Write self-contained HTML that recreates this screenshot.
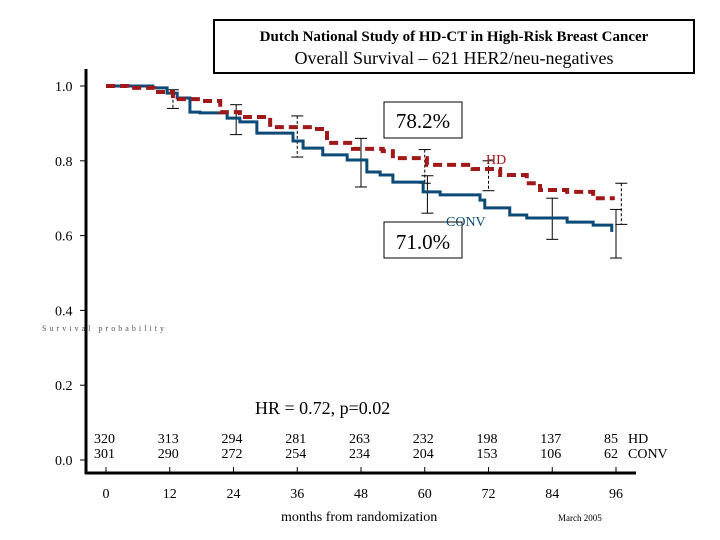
<!DOCTYPE html>
<html><head><meta charset="utf-8"><style>
body{margin:0;background:#fff}
svg{display:block;font-family:"Liberation Serif",serif}
</style></head><body>
<svg width="720" height="540" viewBox="0 0 720 540">
<rect x="214" y="20" width="480" height="53" fill="#fff" stroke="#000" stroke-width="2"/>
<text x="454" y="41" text-anchor="middle" font-size="15" font-weight="bold">Dutch National Study of HD-CT in High-Risk Breast Cancer</text>
<text x="454" y="64" text-anchor="middle" font-size="18">Overall Survival – 621 HER2/neu-negatives</text>
<g id="axes"></g>
<g id="bars"></g>
<g id="lines"></g>
<rect x="384" y="102" width="78" height="36" fill="#fff" stroke="#000"/>
<text x="423" y="128" text-anchor="middle" font-size="21">78.2%</text>
<rect x="384" y="222" width="78" height="36" fill="#fff" stroke="#000"/>
<text x="423" y="249" text-anchor="middle" font-size="21">71.0%</text>
<text x="486" y="164" font-size="14" fill="#a01818">HD</text>
<text x="446" y="226" font-size="14" fill="#0c4a78">CONV</text>
<text x="255" y="414" font-size="18">HR = 0.72, p=0.02</text>
<text x="42" y="331" font-size="8" fill="#555" textLength="122">Survival probability</text>
<text x="281" y="521" font-size="14">months from randomization</text>
<text x="558" y="521" font-size="9">March 2005</text>
<g id="risk"></g>
</svg>
<script>
const hdMonths=[0,4,9,12.6,17.7,21.5,25.2,30.9,39,41.6,46.5,52.1,54,60.4,69,74.2,79.2,81.7,86.8,91.7,95.4];
const hdSurv=[1.0,0.995,0.984,0.965,0.96,0.93,0.917,0.89,0.885,0.848,0.832,0.826,0.807,0.789,0.778,0.762,0.74,0.722,0.717,0.70,0.695];
const convMonths=[0,8.8,11.5,13.4,15.8,17.7,22.8,25.2,28.4,35.2,37.1,40.8,45.4,49.1,51.6,54,59.7,62.9,70.4,71.3,76,79.2,86.8,91.7,95.2];
const convSurv=[1.0,0.995,0.981,0.968,0.93,0.928,0.914,0.904,0.874,0.853,0.834,0.816,0.802,0.77,0.762,0.743,0.717,0.709,0.695,0.674,0.655,0.647,0.636,0.628,0.61];
const ciMonths=[12.6,24.5,36,48,60,60.5,72,84,96,97];
const ciLow=[0.94,0.87,0.81,0.73,0.74,0.66,0.72,0.59,0.54,0.63];
const ciHigh=[0.99,0.95,0.92,0.86,0.83,0.76,0.80,0.70,0.67,0.74];
const ciSeries=["hd","conv","hd","conv","hd","conv","hd","conv","conv","hd"];
const xTicks=[0,12,24,36,48,60,72,84,96];
const yTicks=[0,0.2,0.4,0.6,0.8,1.0];
const riskHD=[320,313,294,281,263,232,198,137,85];
const riskCONV=[301,290,272,254,234,204,153,106,62];
const NS="http://www.w3.org/2000/svg";
const X=m=>106+m*5.3125, Y=v=>460-374*v;
function mk(t,a,p){const e=document.createElementNS(NS,t);for(const k in a)e.setAttribute(k,a[k]);p.appendChild(e);return e;}
const ax=document.getElementById('axes');
let l=mk('line',{x1:86,y1:69,x2:86,y2:474,stroke:'#000','stroke-width':3},ax);


l=mk('line',{x1:85,y1:473,x2:636,y2:473,stroke:'#000','stroke-width':3},ax);


yTicks.forEach(v=>{
 const t=mk('text',{x:55,y:Y(v)+5,'font-size':14},ax);t.textContent=v.toFixed(1);
 
 
 mk('line',{x1:80,y1:Y(v),x2:86,y2:Y(v),stroke:'#000'},ax);
});
xTicks.forEach(m=>{
 const t=mk('text',{x:X(m),y:498,'font-size':14,'text-anchor':'middle'},ax);t.textContent=m;
 
 
 mk('line',{x1:X(m),y1:467,x2:X(m),y2:473,stroke:'#000'},ax);
});
const rk=document.getElementById('risk');
xTicks.forEach((m,i)=>{
 let t=mk('text',{x:X(m)-12,y:443,'font-size':14},rk);t.textContent=riskHD[i];
 
 
 t=mk('text',{x:X(m)-12,y:458,'font-size':14},rk);t.textContent=riskCONV[i];
 
 
});
let t=mk('text',{x:628,y:443,'font-size':14},rk);t.textContent='HD';


t=mk('text',{x:628,y:458,'font-size':14},rk);t.textContent='CONV';


const bg=document.getElementById('bars');
ciMonths.forEach((m,i)=>{
 const hd=ciSeries[i]=='hd';
 const g=mk('g',{stroke:'#000','stroke-width':1,'stroke-dasharray':hd?'3,2':'none'},bg);
 
 
 mk('line',{x1:X(m),y1:Y(ciHigh[i]),x2:X(m),y2:Y(ciLow[i])},g);
 mk('line',{x1:X(m)-6,y1:Y(ciHigh[i]),x2:X(m)+6,y2:Y(ciHigh[i]),'stroke-dasharray':'none'},g);
 mk('line',{x1:X(m)-6,y1:Y(ciLow[i]),x2:X(m)+6,y2:Y(ciLow[i]),'stroke-dasharray':'none'},g);
});
function step(ms,vs){let d='M'+X(ms[0])+' '+Y(vs[0]);for(let i=1;i<ms.length;i++)d+=' H'+X(ms[i])+' V'+Y(vs[i]);return d;}
const lg=document.getElementById('lines');
let p=mk('path',{d:step(convMonths,convSurv),fill:'none',stroke:'#0c4a78','stroke-width':3},lg);


p=mk('path',{d:step(hdMonths,hdSurv),fill:'none',stroke:'#a01818','stroke-width':4,'stroke-dasharray':'9,5'},lg);


</script>
</body></html>
